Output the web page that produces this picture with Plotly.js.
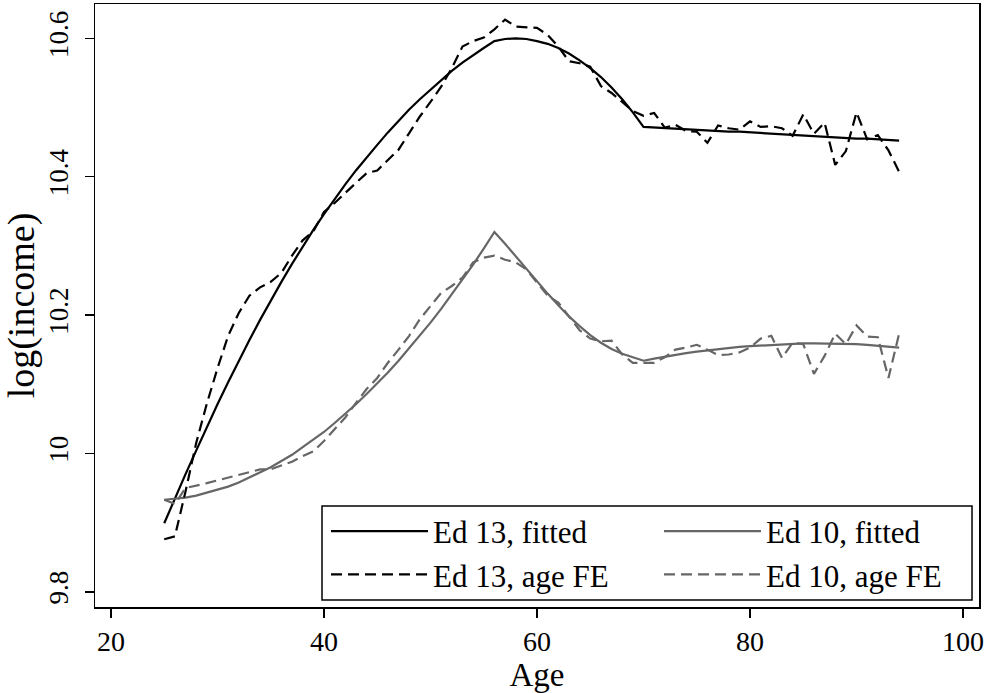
<!DOCTYPE html>
<html>
<head>
<meta charset="utf-8">
<script src="https://cdn.plot.ly/plotly-3.0.1.min.js"></script>
<style>
  html, body { margin: 0; padding: 0; background: #fff; overflow: hidden; }
  #chart { width: 989px; height: 693px; }
</style>
</head>
<body>
<div id="chart"></div>
<script>
// Age (x values)
const ages = [25,26,27,28,29,30,31,32,33,34,35,36,37,38,39,40,41,42,43,44,45,46,47,48,49,50,51,52,53,54,55,56,57,58,59,60,61,62,63,64,65,66,67,68,69,70,71,72,73,74,75,76,77,78,79,80,81,82,83,84,85,86,87,88,89,90,91,92,93,94];

// Ed 13, fitted
const ed13Fitted = [9.899,9.935,9.970,10.004,10.038,10.071,10.103,10.134,10.164,10.193,10.221,10.248,10.274,10.299,10.323,10.346,10.368,10.389,10.409,10.428,10.446,10.464,10.481,10.497,10.512,10.526,10.540,10.553,10.565,10.576,10.586,10.596,10.599,10.600,10.599,10.596,10.592,10.586,10.578,10.568,10.557,10.544,10.529,10.512,10.493,10.472,10.471,10.470,10.470,10.469,10.468,10.467,10.466,10.465,10.465,10.464,10.463,10.462,10.461,10.460,10.460,10.459,10.458,10.457,10.456,10.455,10.455,10.454,10.453,10.452];

// Ed 13, age FE
const ed13FE = [9.876,9.880,9.945,10.015,10.072,10.123,10.170,10.203,10.228,10.240,10.248,10.261,10.286,10.308,10.321,10.349,10.362,10.377,10.391,10.405,10.409,10.424,10.439,10.463,10.487,10.508,10.530,10.557,10.588,10.596,10.601,10.613,10.627,10.617,10.616,10.615,10.605,10.588,10.567,10.564,10.559,10.531,10.521,10.508,10.495,10.488,10.492,10.471,10.475,10.466,10.465,10.449,10.474,10.470,10.468,10.480,10.472,10.473,10.470,10.459,10.490,10.462,10.478,10.417,10.437,10.493,10.454,10.460,10.438,10.407];

// Ed 10, fitted
const ed10Fitted = [9.933,9.934,9.936,9.939,9.943,9.947,9.952,9.958,9.965,9.972,9.980,9.989,9.998,10.009,10.020,10.031,10.044,10.057,10.071,10.086,10.101,10.117,10.134,10.152,10.170,10.189,10.209,10.230,10.251,10.273,10.296,10.320,10.303,10.285,10.266,10.248,10.231,10.214,10.198,10.184,10.171,10.160,10.151,10.144,10.139,10.134,10.137,10.140,10.143,10.145,10.147,10.149,10.151,10.152,10.154,10.155,10.156,10.157,10.158,10.158,10.159,10.159,10.159,10.159,10.158,10.158,10.157,10.156,10.154,10.153];

// Ed 10, age FE
const ed10FE = [9.933,9.927,9.950,9.953,9.957,9.961,9.965,9.969,9.972,9.977,9.977,9.983,9.988,9.996,10.003,10.018,10.035,10.052,10.073,10.093,10.109,10.131,10.150,10.170,10.194,10.213,10.232,10.242,10.254,10.276,10.283,10.286,10.280,10.276,10.266,10.247,10.228,10.218,10.198,10.178,10.166,10.162,10.163,10.143,10.131,10.131,10.131,10.139,10.150,10.153,10.157,10.150,10.142,10.143,10.146,10.153,10.166,10.170,10.138,10.160,10.158,10.115,10.141,10.173,10.158,10.185,10.169,10.168,10.109,10.173];

const seriesNames = ["Ed 13, fitted", "Ed 10, fitted", "Ed 13, age FE", "Ed 10, age FE"];
const xTickVals = [20, 40, 60, 80, 100];
const xTickText = ["20", "40", "60", "80", "100"];
const yTickVals = [9.8, 10.0, 10.2, 10.4, 10.6];
const yTickText = ["9.8", "10", "10.2", "10.4", "10.6"];

const FONT = "Liberation Serif";
const BLACK = "#000000";
const GRAY = "#666666";
const DASH = "11px,6px";

const traces = [
  { x: ages, y: ed13Fitted, name: seriesNames[0], mode: "lines", legend: "legend",  line: { color: BLACK, width: 2.2 } },
  { x: ages, y: ed10Fitted, name: seriesNames[1], mode: "lines", legend: "legend2", line: { color: GRAY, width: 2.2 } },
  { x: ages, y: ed13FE,     name: seriesNames[2], mode: "lines", legend: "legend",  line: { color: BLACK, width: 2.2, dash: DASH } },
  { x: ages, y: ed10FE,     name: seriesNames[3], mode: "lines", legend: "legend2", line: { color: GRAY, width: 2.2, dash: DASH } }
];

const legendCommon = {
  orientation: "v",
  yanchor: "middle",
  y: 0.0896,
  xanchor: "left",
  bgcolor: "rgba(0,0,0,0)",
  borderwidth: 0,
  itemwidth: 97,
  font: { family: FONT, size: 31, color: "#000" },
  traceorder: "normal"
};

const layout = {
  width: 989,
  height: 693,
  margin: { l: 95, r: 10, t: 4, b: 86, autoexpand: false },
  paper_bgcolor: "#ffffff",
  plot_bgcolor: "#ffffff",
  font: { family: FONT, color: "#000", size: 27 },
  showlegend: true,
  legend: Object.assign({}, legendCommon, { x: 0.2613 }),
  legend2: Object.assign({}, legendCommon, { x: 0.638 }),
  shapes: [
    { type: "rect", xref: "paper", yref: "paper", x0: 0.2568, x1: 0.9921, y0: 0.0116, y1: 0.1675,
      layer: "above", fillcolor: "#ffffff", line: { color: "#000", width: 1.5 } }
  ],
  xaxis: {
    range: [18.5, 101.5],
    tickmode: "array", tickvals: xTickVals, ticktext: xTickText,
    ticks: "outside", ticklen: 9, tickwidth: 1.5, tickcolor: "#000",
    showline: true, mirror: true, linecolor: "#000", linewidth: 1.5,
    showgrid: false, zeroline: false, automargin: false,
    tickfont: { family: FONT, size: 28, color: "#000" },
    title: { text: "Age", font: { family: FONT, size: 33, color: "#000" }, standoff: 8 }
  },
  yaxis: {
    range: [9.778, 10.6496],
    tickmode: "array", tickvals: yTickVals, ticktext: yTickText,
    tickangle: -90,
    ticklabelstandoff: 6,
    ticks: "outside", ticklen: 9, tickwidth: 1.5, tickcolor: "#000",
    showline: true, mirror: true, linecolor: "#000", linewidth: 1.5,
    showgrid: false, zeroline: false, automargin: false,
    tickfont: { family: FONT, size: 27, color: "#000" },
    title: { text: "log(income)", font: { family: FONT, size: 38, color: "#000" }, standoff: 0 }
  }
};

Plotly.newPlot("chart", traces, layout, { displayModeBar: false, staticPlot: true });
</script>
</body>
</html>
